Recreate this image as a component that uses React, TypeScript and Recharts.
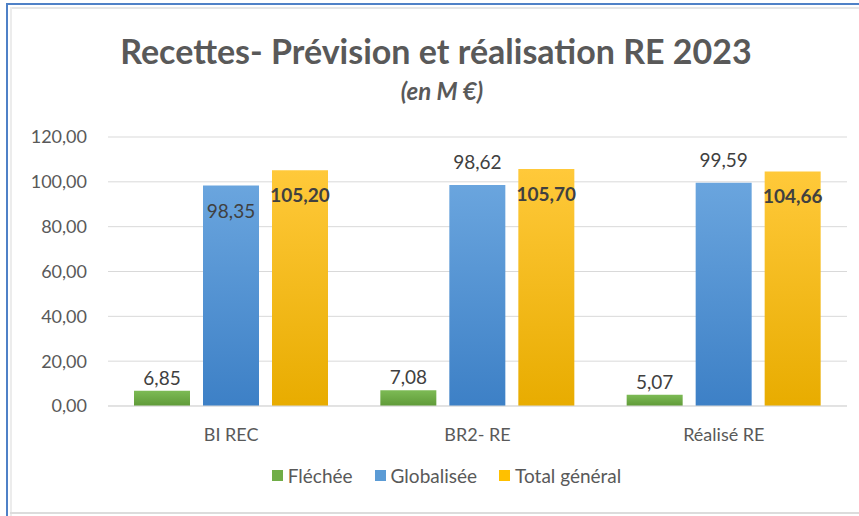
import React from 'react';
import { BarChart, Bar, XAxis, YAxis, CartesianGrid, Legend, LabelList } from 'recharts';

const categories = ['BI REC', 'BR2- RE', 'Réalisé RE'];
const flechee = [6.85, 7.08, 5.07];
const globalisee = [98.35, 98.62, 99.59];
const totalGeneral = [105.2, 105.7, 104.66];
const yTicks = [0, 20, 40, 60, 80, 100, 120];

const data = categories.map((name, i) => ({
  name,
  flechee: flechee[i],
  globalisee: globalisee[i],
  total: totalGeneral[i],
}));

const FONT = 'Lato, "Open Sans", sans-serif';
const TEXT = '#595959';
const LABEL = '#404040';

const fmt = (v: number) => v.toFixed(2).replace('.', ',');

// where Excel put the labels (inside the top of the bar, or above it)
const blueInside = [true, false, false];

const labelAbove = (gap: number) => (props: any) => {
  const { x, y, width, value } = props;
  return (
    <text x={x + width / 2} y={y - gap} textAnchor="middle" fill={LABEL} fontSize={19} fontFamily={FONT}>
      {fmt(value)}
    </text>
  );
};

const blueLabel = (props: any) => {
  const { x, y, width, value, index } = props;
  const ty = blueInside[index] ? y + 32 : y - 16;
  return (
    <text x={x + width / 2} y={ty} textAnchor="middle" fill={LABEL} fontSize={19} fontFamily={FONT}>
      {fmt(value)}
    </text>
  );
};

const yellowLabel = (props: any) => {
  const { x, y, width, value } = props;
  return (
    <text x={x + width / 2} y={y + 32} textAnchor="middle" fill={LABEL} fontSize={19} fontWeight="bold" fontFamily={FONT}>
      {fmt(value)}
    </text>
  );
};

const legendItems = [
  { label: 'Fléchée', color: '#70ad47' },
  { label: 'Globalisée', color: '#5b9bd5' },
  { label: 'Total général', color: '#ffc000' },
];

const renderLegend = () => (
  <div style={{ display: 'flex', justifyContent: 'center', alignItems: 'center', gap: 22, height: 50, fontFamily: FONT, fontSize: 19, color: TEXT, paddingLeft: 26 }}>
    {legendItems.map((it) => (
      <div key={it.label} style={{ display: 'flex', alignItems: 'center' }}>
        <span style={{ display: 'inline-block', width: 11, height: 11, background: it.color, marginRight: 5 }} />
        {it.label}
      </div>
    ))}
  </div>
);

export default function App() {
  return (
    <div style={{ position: 'absolute', left: 0, top: 0, width: 859, height: 516, overflow: 'hidden', background: '#fff' }}>
      {/* sheet frame */}
      <div style={{ position: 'absolute', left: 6, top: 3, width: 853, height: 2, background: '#4f81c7' }} />
      <div style={{ position: 'absolute', left: 6, top: 3, width: 2, height: 513, background: '#4f81c7' }} />
      <div style={{ position: 'absolute', left: 10, top: 7, width: 849, height: 2, background: '#e6e6e6' }} />
      <div style={{ position: 'absolute', left: 10, top: 7, width: 2, height: 509, background: '#ececec' }} />
      <div style={{ position: 'absolute', left: 10, top: 512, width: 849, height: 2, background: '#dcdcdc' }} />

      <div style={{ position: 'absolute', left: 0, top: 30, width: 872, textAlign: 'center', fontFamily: FONT, fontWeight: 'bold', fontSize: 34, color: TEXT }}>
        Recettes- Prévision et réalisation RE 2023
      </div>
      <div style={{ position: 'absolute', left: 0, top: 76, width: 884, textAlign: 'center', fontFamily: FONT, fontWeight: 'bold', fontStyle: 'italic', fontSize: 24, color: TEXT }}>
        (en M €)
      </div>

      <div style={{ position: 'absolute', left: 0, top: 0 }}>
        <BarChart width={859} height={516} data={data} margin={{ top: 137, right: 12, bottom: 16, left: 20 }} barCategoryGap={26} barGap={13}>
          <defs>
            <linearGradient id="gGreen" x1="0" y1="0" x2="0" y2="1">
              <stop offset="0%" stopColor="#7dbb55" />
              <stop offset="100%" stopColor="#5f9a38" />
            </linearGradient>
            <linearGradient id="gBlue" x1="0" y1="0" x2="0" y2="1">
              <stop offset="0%" stopColor="#6aa5de" />
              <stop offset="100%" stopColor="#3d80c6" />
            </linearGradient>
            <linearGradient id="gYellow" x1="0" y1="0" x2="0" y2="1">
              <stop offset="0%" stopColor="#ffc93a" />
              <stop offset="100%" stopColor="#e8ac00" />
            </linearGradient>
          </defs>
          <CartesianGrid vertical={false} stroke="#d9d9d9" />
          <XAxis dataKey="name" height={44} tickSize={0} tickMargin={22} axisLine={{ stroke: '#d9d9d9' }} tick={{ fill: TEXT, fontSize: 18, fontFamily: FONT }} />
          <YAxis width={88} domain={[0, 120]} ticks={yTicks} tickFormatter={fmt} tickSize={0} tickMargin={21} axisLine={false} tick={{ fill: TEXT, fontSize: 18, fontFamily: FONT }} />
          <Legend verticalAlign="bottom" height={50} content={renderLegend} />
          <Bar dataKey="flechee" name="Fléchée" fill="url(#gGreen)" isAnimationActive={false}>
            <LabelList dataKey="flechee" content={labelAbove(6)} />
          </Bar>
          <Bar dataKey="globalisee" name="Globalisée" fill="url(#gBlue)" isAnimationActive={false}>
            <LabelList dataKey="globalisee" content={blueLabel} />
          </Bar>
          <Bar dataKey="total" name="Total général" fill="url(#gYellow)" isAnimationActive={false}>
            <LabelList dataKey="total" content={yellowLabel} />
          </Bar>
        </BarChart>
      </div>
    </div>
  );
}
